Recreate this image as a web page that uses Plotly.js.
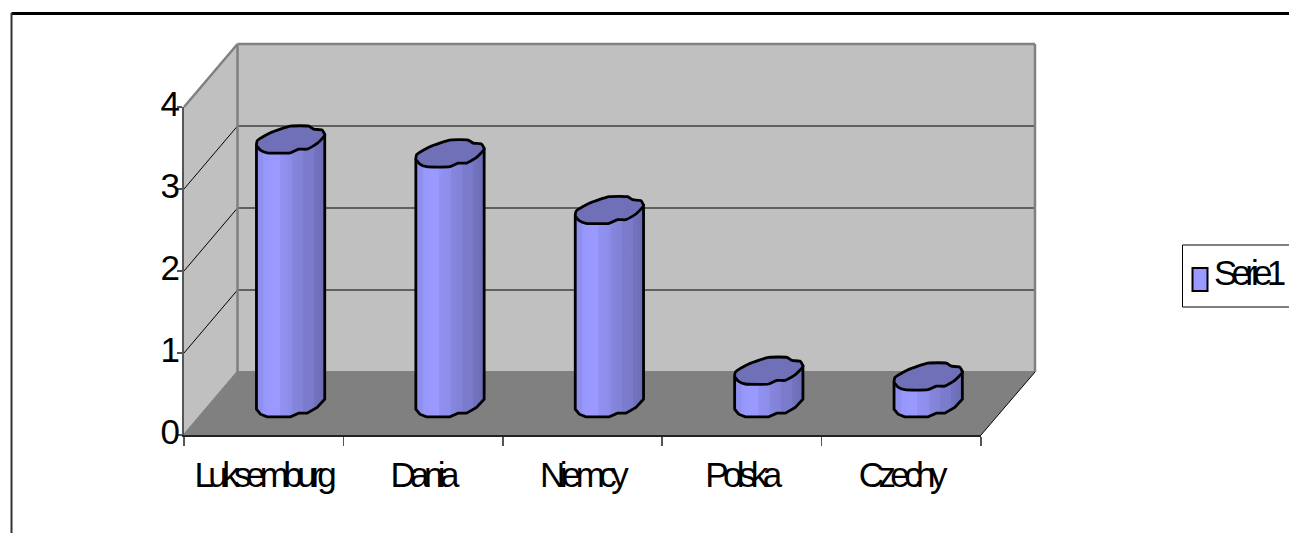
<!DOCTYPE html>
<html>
<head>
<meta charset="utf-8">
<script src="https://cdn.plot.ly/plotly-3.0.1.min.js"></script>
<style>
html,body{margin:0;padding:0;background:#fff;overflow:hidden}
#chart{width:1289px;height:533px}
.xtick text{letter-spacing:-5.6px}
.annotation-text{letter-spacing:-5.8px}
</style>
</head>
<body>
<div id="chart"></div>
<script>
const categories = ["Luksemburg", "Dania", "Niemcy", "Polska", "Czechy"];
const values = [3.22, 3.05, 2.36, 0.40, 0.33];
const yTicks = [0, 1, 2, 3, 4];
const seriesName = "Serie1";

// Chart frame geometry in page pixels
const W = 1289, H = 533;
const front = {l: 184, r: 981, b: 435, t: 107};
const depth = {x: 53.5, y: -63};
const px = x => x / W, py = y => 1 - y / H;
const pxPerCat = (front.r - front.l) / categories.length;
const pxPerUnit = (front.b - front.t) / 4;

// Outline of one cylinder cap around its centre, in pixels (x right, y down)
const rimDx = [-34, -33, -20, 0, 18.3, 23.3, 31.7, 34.3, 26.7, 16.7, 8.3, 0, -23.3, -30];
const rimDy = [5.7, 1, -6.7, -13.3, -13.3, -10.3, -9.3, -4.3, 4, 9.7, 9.7, 13.3, 13.3, 10.7];
const frontIdx = [8, 9, 10, 11, 12, 13];

const bands = [
  [0, "#8f8ff0"], [0.1, "#8f8ff0"], [0.1, "#9696fa"], [0.2, "#9999ff"], [0.34, "#9999ff"], [0.34, "#9292f2"],
  [0.52, "#8c8ce8"], [0.52, "#8686de"], [0.68, "#8181d6"], [0.68, "#7c7cce"], [0.84, "#7a7acb"], [0.84, "#7373c0"], [1, "#6c6cb4"]
];

const traces = [{
  x: categories, y: values, xaxis: "x", yaxis: "y", mode: "markers",
  marker: {opacity: 0}, showlegend: false, hoverinfo: "skip"
}];

values.forEach((v, i) => {
  const X = d => i + d / pxPerCat, Y = (base, d) => base - d / pxPerUnit;
  const bodyX = [X(rimDx[0])], bodyY = [Y(v, rimDy[0])];
  bodyX.push(X(rimDx[0])); bodyY.push(Y(0, rimDy[0]));
  frontIdx.slice().reverse().forEach(k => { bodyX.push(X(rimDx[k])); bodyY.push(Y(0, rimDy[k])); });
  bodyX.push(X(rimDx[7])); bodyY.push(Y(0, rimDy[7]));
  bodyX.push(X(rimDx[7])); bodyY.push(Y(v, rimDy[7]));
  bodyX.push(bodyX[0]); bodyY.push(bodyY[0]);
  traces.push({
    x: bodyX, y: bodyY, xaxis: "x2", yaxis: "y2", mode: "lines", fill: "toself",
    fillgradient: {type: "horizontal", colorscale: bands},
    line: {color: "#000", width: 2.8}, showlegend: false, hoverinfo: "skip"
  });
  const capX = rimDx.map(X).concat([X(rimDx[0])]);
  const capY = rimDy.map(d => Y(v, d)).concat([Y(v, rimDy[0])]);
  traces.push({
    x: capX, y: capY, xaxis: "x2", yaxis: "y2", mode: "lines", fill: "toself",
    fillcolor: "#7070B8", line: {color: "#000", width: 2.8, shape: "spline", smoothing: 0.5},
    showlegend: false, hoverinfo: "skip"
  });
});

const poly = pts => "M" + pts.map(p => px(p[0]) + "," + py(p[1])).join("L") + "Z";
const seg = (x0, y0, x1, y1, color, width) => ({
  type: "line", xref: "paper", yref: "paper", layer: "below",
  x0: px(x0), y0: py(y0), x1: px(x1), y1: py(y1), line: {color, width}
});
const bx = front.l + depth.x, bxr = front.r + depth.x + 0.5, by = front.b + depth.y, byt = front.t + depth.y;
const fillPoly = (pts, color) => ({type: "path", xref: "paper", yref: "paper", layer: "below",
  path: poly(pts), fillcolor: color, line: {width: 0}});

const shapes = [
  fillPoly([[bx, byt], [bxr, byt], [bxr, by], [bx, by]], "#C0C0C0"),
  fillPoly([[front.l, front.t], [bx, byt], [bx, by], [front.l, front.b]], "#C0C0C0"),
  fillPoly([[front.l, front.b], [bx, by], [bxr, by], [front.r, front.b]], "#808080")
];
yTicks.slice(1, 4).forEach(t => {
  const fy = front.b - t * pxPerUnit;
  shapes.push(seg(front.l, fy, bx, fy + depth.y, "#000", 1));
  shapes.push(seg(bx, fy + depth.y, bxr, fy + depth.y, "#000", 1));
});
shapes.push(
  seg(bx, byt, bxr, byt, "#808080", 2.5),
  seg(bx, byt, bx, by, "#808080", 2.5),
  seg(bxr, byt, bxr, by, "#808080", 2.5),
  seg(bx, by, bxr, by, "#808080", 2),
  seg(front.l, front.b, bx, by, "#808080", 2),
  seg(front.l, front.t, bx, byt, "#808080", 2.5),
  seg(front.r, front.b, bxr, by, "#000", 1),
  // outer frame
  seg(11.5, 13.5, W, 13.5, "#000", 3),
  seg(11.5, 13, 11.5, H, "#333", 2),
  // legend box and swatch
  {type: "rect", xref: "paper", yref: "paper", x0: px(1182.5), x1: px(W + 5), y0: py(307), y1: py(245),
    fillcolor: "#fff", line: {color: "#000", width: 1}},
  {type: "rect", xref: "paper", yref: "paper", x0: px(1192.5), x1: px(1207.5), y0: py(291), y1: py(268),
    fillcolor: "#9999FF", line: {color: "#000", width: 2}}
);

const layout = {
  width: W, height: H, margin: {l: 0, r: 0, t: 0, b: 0},
  paper_bgcolor: "#fff", plot_bgcolor: "rgba(0,0,0,0)",
  font: {family: "Liberation Sans, Arial, sans-serif", size: 35, color: "#000"},
  showlegend: false,
  xaxis: {
    type: "category", domain: [px(front.l), px(front.r)], anchor: "y",
    categoryorder: "array", categoryarray: categories, range: [-0.5, 4.5],
    tickson: "boundaries", ticks: "outside", ticklen: 9, tickwidth: 1.5, tickcolor: "#555",
    showline: true, linecolor: "#222", linewidth: 1.5, showgrid: false, zeroline: false,
    tickfont: {size: 35}, tickangle: 0, ticklabelstandoff: 8, ticklabelshift: -1
  },
  yaxis: {
    domain: [py(front.b), py(front.t)], anchor: "x", range: [0, 4],
    tickmode: "array", tickvals: yTicks, ticktext: yTicks.map(String),
    ticks: "outside", ticklen: 5, tickwidth: 1.5, tickcolor: "#555",
    showline: true, linecolor: "#555", linewidth: 2, showgrid: false, zeroline: false,
    tickfont: {size: 35}, ticklabelstandoff: -10, ticklabelshift: -3
  },
  xaxis2: {
    domain: [px(front.l + depth.x / 2), px(front.r + depth.x / 2)], anchor: "y2",
    range: [-0.5, 4.5], visible: false, fixedrange: true
  },
  yaxis2: {
    domain: [py(front.b + depth.y / 2 + pxPerUnit), py(front.t + depth.y / 2)], anchor: "x2",
    range: [-1, 4], visible: false, fixedrange: true
  },
  shapes,
  annotations: [{
    text: seriesName, xref: "paper", yref: "paper", x: px(1212), y: py(272),
    xanchor: "left", yanchor: "middle", showarrow: false, font: {size: 35, color: "#000"}
  }]
};

Plotly.newPlot("chart", traces, layout, {displayModeBar: false, staticPlot: true});
</script>
</body>
</html>
